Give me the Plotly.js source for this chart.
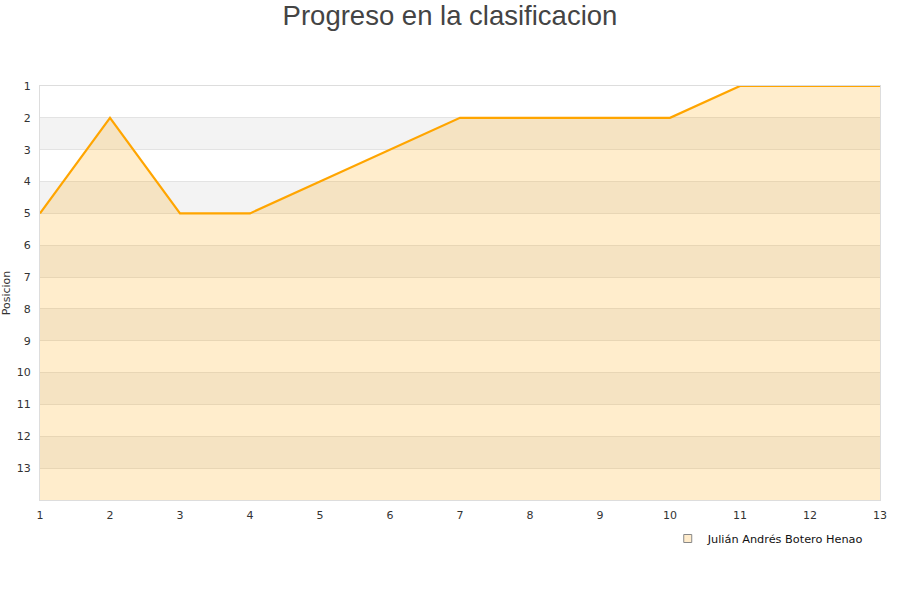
<!DOCTYPE html>
<html><head><meta charset="utf-8">
<script src="https://cdn.plot.ly/plotly-3.0.1.min.js"></script>
<style>html,body{margin:0;padding:0;background:#fff}#c{width:900px;height:600px}</style>
</head><body><div id="c"></div>
<script>
const jornadas = [1,2,3,4,5,6,7,8,9,10,11,12,13];
const posiciones = [5,2,5,5,4,3,2,2,2,2,1,1,1];
const jugador = "Julián Andrés Botero Henao";
const yTicks = [1,2,3,4,5,6,7,8,9,10,11,12,13];
const bandStarts = [2,4,6,8,10,12];

const shapes = bandStarts.map(b => ({
  type:'rect', xref:'paper', yref:'y', x0:0, x1:1, y0:b, y1:b+1,
  fillcolor:'#f3f3f3', line:{width:0}, layer:'below'
}));

const fillTrace = {
  x: [jornadas[0]].concat(jornadas, [jornadas[jornadas.length-1]]),
  y: [14].concat(posiciones, [14]),
  type:'scatter', mode:'none', fill:'toself',
  fillcolor:'rgba(255,165,0,0.2)', showlegend:false, hoverinfo:'skip'
};
const lineTrace = {
  x: jornadas, y: posiciones, type:'scatter', mode:'lines',
  name: jugador, line:{color:'#ffa500', width:2.2},
  fill:'none', showlegend:false
};
const legendTrace = {
  x:[null], y:[null], type:'scatter', mode:'markers', name: jugador,
  marker:{symbol:'square', size:8, color:'#ffeccc', line:{color:'#888', width:1}}
};

const layout = {
  width:900, height:600,
  margin:{l:40, r:20, t:86, b:100},
  paper_bgcolor:'#fff', plot_bgcolor:'#fff',
  title:{text:'Progreso en la clasificacion', x:0.5, xanchor:'center', y:0.99, yanchor:'top',
    font:{family:'Liberation Sans, Arial, sans-serif', size:27.5, color:'#444'}},
  font:{family:'DejaVu Sans, sans-serif', size:11, color:'#333'},
  xaxis:{range:[1,13], tickvals:jornadas, ticktext:jornadas.map(String),
    showgrid:false, zeroline:false, showline:true, linecolor:'#ddd', mirror:true,
    ticks:'outside', ticklen:5, tickcolor:'rgba(0,0,0,0)', tickfont:{size:11, color:'#333'}, fixedrange:true},
  yaxis:{range:[14,1], tickvals:yTicks, ticktext:yTicks.map(String),
    showgrid:true, gridcolor:'#e3e3e3', zeroline:false, showline:true, linecolor:'#ddd', mirror:true,
    ticks:'outside', ticklen:6, tickcolor:'rgba(0,0,0,0)',
    tickfont:{size:11, color:'#333'},
    title:{text:'Posicion', font:{size:11, color:'#333'}, standoff:8}, fixedrange:true},
  shapes: shapes,
  showlegend:true,
  legend:{x:0.9866, xanchor:'right', y:-0.058, yanchor:'top', orientation:'h',
    bgcolor:'rgba(255,255,255,0)', font:{size:11.3, color:'#111'}, itemwidth:30},
  annotations:[]
};

Plotly.newPlot('c', [fillTrace, lineTrace, legendTrace], layout, {displayModeBar:false, staticPlot:true});
</script></body></html>
